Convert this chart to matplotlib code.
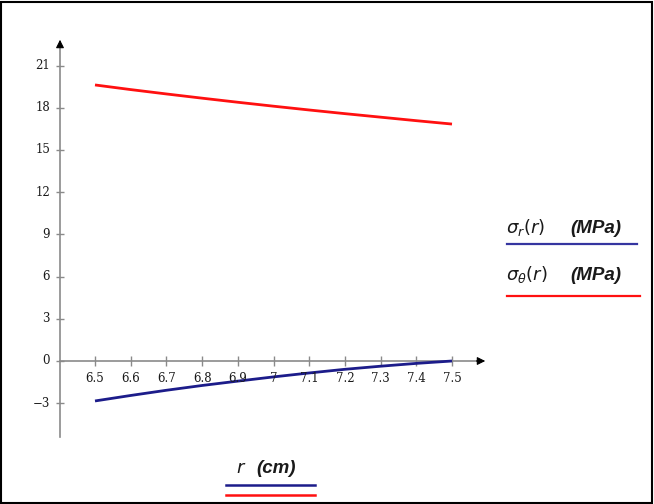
import matplotlib.pyplot as plt
from matplotlib.lines import Line2D
from matplotlib.patches import Rectangle

# data
r_cm = [6.5, 6.6, 6.7, 6.8, 6.9, 7.0, 7.1, 7.2, 7.3, 7.4, 7.5]
sigma_r = [-2.84, -2.45, -2.08, -1.74, -1.43, -1.13, -0.85, -0.59, -0.37, -0.17, 0.0]
sigma_theta = [19.62, 19.29, 18.98, 18.68, 18.39, 18.11, 17.84, 17.58, 17.33, 17.08, 16.84]

x_ticks = [6.5, 6.6, 6.7, 6.8, 6.9, 7.0, 7.1, 7.2, 7.3, 7.4, 7.5]
x_tick_labels = ["6.5", "6.6", "6.7", "6.8", "6.9", "7", "7.1", "7.2", "7.3", "7.4", "7.5"]
y_ticks = [21, 18, 15, 12, 9, 6, 3, 0, -3]
y_tick_labels = ["21", "18", "15", "12", "9", "6", "3", "0", "\u22123"]

W, H = 654, 504
plt.rcParams["mathtext.fontset"] = "dejavusans"
fig = plt.figure(figsize=(W / 100, H / 100), dpi=100)
fig.patch.set_facecolor("white")

# axes filling the figure, limits chosen so the plot area sits like the original
ax = fig.add_axes([0, 0, 1, 1])
px_per_x = 357.0
px_per_y = 14.07
ax.set_xlim(6.5 - 95 / px_per_x, 6.5 + (W - 95) / px_per_x)
ax.set_ylim(-(H - 361) / px_per_y, 361 / px_per_y)
ax.axis("off")

axis_col = "#8a8a8a"
x0 = 6.5 - 35 / px_per_x
x_end = 6.5 + 393 / px_per_x
y_bot = -(437 - 361) / px_per_y
y_top = (361 - 37) / px_per_y

# axes lines with arrow heads
ax.plot([x0, x0], [y_bot, y_top - 0.6], color=axis_col, lw=1.2)
ax.plot([x0, x_end - 0.02], [0, 0], color=axis_col, lw=1.2)
ax.annotate("", xy=(x0, y_top), xytext=(x0, y_top - 0.9),
            arrowprops=dict(arrowstyle="-|>", color="black", lw=0.8, mutation_scale=12))
ax.annotate("", xy=(x_end, 0), xytext=(x_end - 0.04, 0),
            arrowprops=dict(arrowstyle="-|>", color="black", lw=0.8, mutation_scale=12))

# tick marks
ax.plot([x0] * len(y_ticks), y_ticks, ls="none", marker="_", ms=6, mew=1.0, color=axis_col)
ax.plot(x_ticks, [0] * len(x_ticks), ls="none", marker="|", ms=7, mew=1.0, color=axis_col)

tick_font = dict(family="DejaVu Serif", size=8.5, color="#1a1a1a")
for yv, lab in zip(y_ticks, y_tick_labels):
    ax.text(x0 - 10 / px_per_x, yv, lab, ha="right", va="center", **tick_font)
for xv, lab in zip(x_ticks, x_tick_labels):
    ax.text(xv, -17 / px_per_y, lab, ha="center", va="center", **tick_font)

# curves
blue = "#1c1c8a"
red = "#ff1010"
ax.plot(r_cm, sigma_r, color=blue, lw=2.0, solid_capstyle="butt")
ax.plot(r_cm, sigma_theta, color=red, lw=2.0, solid_capstyle="butt")

# legend-like labels, placed in figure pixels
def fx(px):
    return px / W

def fy(py):
    return 1 - py / H

math_font = dict(size=13, color="#1a1a1a", va="baseline", ha="left")
unit_font = dict(family="Liberation Sans", style="italic", weight="bold", ha="left",
                 size=13.5, color="#1a1a1a", va="baseline")
fig.text(fx(506), fy(233), r"$\sigma_r(r)$", **math_font)
fig.text(fx(570), fy(233), "(MPa)", **unit_font)
fig.text(fx(506), fy(280), r"$\sigma_\theta(r)$", **math_font)
fig.text(fx(570), fy(280), "(MPa)", **unit_font)
fig.add_artist(Line2D([fx(507), fx(637)], [fy(244), fy(244)], color="#3535a0", lw=1.6))
fig.add_artist(Line2D([fx(507), fx(640)], [fy(296), fy(296)], color=red, lw=1.6))

fig.text(fx(236), fy(473), r"$r$", **math_font)
fig.text(fx(256), fy(473), "(cm)", **unit_font)
fig.add_artist(Line2D([fx(226), fx(315)], [fy(485), fy(485)], color=blue, lw=1.8))
fig.add_artist(Line2D([fx(226), fx(315)], [fy(495), fy(495)], color=red, lw=1.8))

# outer frame
fig.add_artist(Rectangle((1 / W, 1 / H), 1 - 3 / W, 1 - 3 / H, transform=fig.transFigure,
                         fill=False, edgecolor="black", lw=1.5))

fig.savefig("out.png", dpi=100)
